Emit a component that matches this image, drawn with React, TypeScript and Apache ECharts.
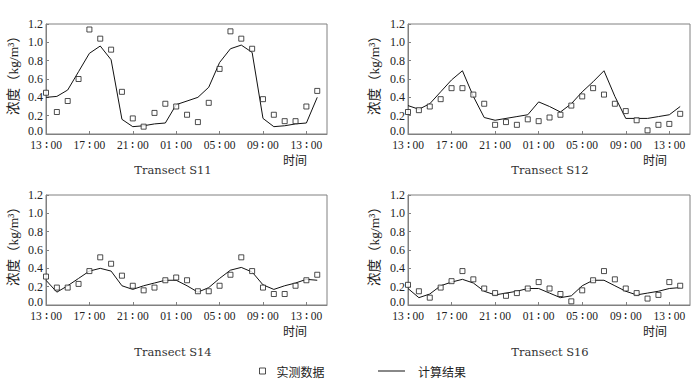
import React, { useEffect, useRef } from "react";
import * as echarts from "echarts";

const hours = [0, 1, 2, 3, 4, 5, 6, 7, 8, 9, 10, 11, 12, 13, 14, 15, 16, 17, 18, 19, 20, 21, 22, 23, 24, 25];
const timeLabels = ["13 ∶ 00", "17 ∶ 00", "21 ∶ 00", "01 ∶ 00", "05 ∶ 00", "09 ∶ 00", "13 ∶ 00"];
const yTicks = ["0.0", "0.2", "0.4", "0.6", "0.8", "1.0", "1.2"];
const transects = ["Transect S11", "Transect S12", "Transect S14", "Transect S16"];

const s11Measured = [0.45, 0.24, 0.36, 0.60, 1.14, 1.04, 0.92, 0.46, 0.17, 0.08, 0.23, 0.33, 0.30, 0.21, 0.13, 0.34, 0.71, 1.12, 1.04, 0.93, 0.38, 0.21, 0.14, 0.14, 0.30, 0.47];
const s11Computed = [0.40, 0.41, 0.48, 0.68, 0.88, 0.96, 0.81, 0.16, 0.08, 0.09, 0.11, 0.12, 0.32, 0.36, 0.40, 0.51, 0.78, 0.93, 0.97, 0.89, 0.17, 0.08, 0.09, 0.11, 0.12, 0.40];

const s12Measured = [0.24, 0.26, 0.30, 0.38, 0.50, 0.50, 0.43, 0.33, 0.10, 0.13, 0.10, 0.16, 0.14, 0.18, 0.21, 0.31, 0.41, 0.50, 0.43, 0.33, 0.25, 0.15, 0.04, 0.10, 0.11, 0.22];
const s12Computed = [0.31, 0.27, 0.33, 0.46, 0.59, 0.69, 0.41, 0.18, 0.15, 0.17, 0.19, 0.21, 0.35, 0.30, 0.24, 0.33, 0.46, 0.57, 0.69, 0.41, 0.17, 0.17, 0.17, 0.19, 0.21, 0.30];

const s14Measured = [0.31, 0.19, 0.19, 0.23, 0.37, 0.52, 0.45, 0.32, 0.21, 0.16, 0.19, 0.27, 0.30, 0.27, 0.15, 0.15, 0.21, 0.33, 0.52, 0.37, 0.19, 0.12, 0.12, 0.21, 0.27, 0.33];
const s14Computed = [0.27, 0.14, 0.21, 0.29, 0.37, 0.40, 0.37, 0.21, 0.17, 0.21, 0.24, 0.27, 0.27, 0.21, 0.14, 0.19, 0.29, 0.38, 0.41, 0.36, 0.22, 0.17, 0.21, 0.24, 0.28, 0.27];

const s16Measured = [0.22, 0.15, 0.08, 0.19, 0.26, 0.37, 0.28, 0.18, 0.13, 0.10, 0.13, 0.18, 0.25, 0.18, 0.12, 0.04, 0.16, 0.27, 0.37, 0.28, 0.18, 0.13, 0.07, 0.11, 0.25, 0.21];
const s16Computed = [0.18, 0.08, 0.12, 0.21, 0.25, 0.28, 0.24, 0.15, 0.11, 0.13, 0.15, 0.18, 0.18, 0.13, 0.08, 0.10, 0.21, 0.27, 0.27, 0.21, 0.15, 0.11, 0.13, 0.15, 0.18, 0.19];

const measuredSets = [s11Measured, s12Measured, s14Measured, s16Measured];
const computedSets = [s11Computed, s12Computed, s14Computed, s16Computed];

const SERIF = "'Liberation Serif', 'DejaVu Serif', serif";
const CJK = "'Liberation Serif', 'Noto Sans CJK SC', sans-serif";
const TEXT = "#222";
const FRAME = "#808080";

const grids = [
  { left: 46, top: 24, width: 281, height: 110 },
  { left: 408, top: 24, width: 282, height: 110 },
  { left: 46, top: 195, width: 281, height: 110 },
  { left: 408, top: 195, width: 282, height: 110 },
];

export default function App() {
  const ref = useRef<HTMLDivElement>(null);
  useEffect(() => {
    if (!ref.current) return;
    const chart = echarts.init(ref.current, null, { renderer: "svg" });

    const xAxes = grids.map((_, i) => ({
      type: "value",
      gridIndex: i,
      min: 0,
      max: 25.9,
      interval: 4,
      axisLine: { show: true, lineStyle: { color: FRAME, width: 1 } },
      axisTick: { show: true, inside: true, length: 3, lineStyle: { color: FRAME } },
      splitLine: { show: false },
      axisLabel: {
        showMaxLabel: false,
        margin: 5,
        color: TEXT,
        fontFamily: SERIF,
        fontSize: 11.5,
        formatter: (v: number) => (v % 4 === 0 ? timeLabels[v / 4] ?? "" : ""),
      },
    }));

    const yAxes = grids.map((_, i) => ({
      type: "value",
      gridIndex: i,
      min: 0,
      max: 1.2,
      interval: 0.2,
      axisLine: { show: true, lineStyle: { color: FRAME, width: 1 } },
      axisTick: { show: true, inside: true, length: 3, lineStyle: { color: FRAME } },
      splitLine: { show: false },
      axisLabel: {
        margin: 3,
        color: TEXT,
        fontFamily: SERIF,
        fontSize: 12,
        formatter: (v: number) => {
          const idx = Math.round(v / 0.2);
          const s = yTicks[idx] ?? "";
          return idx === 0 ? "{z|" + s + "}" : s;
        },
        rich: {
          z: { color: TEXT, fontFamily: SERIF, fontSize: 12, padding: [0, 0, 6, 0] },
        },
      },
    }));

    const series: any[] = [];
    grids.forEach((_, i) => {
      series.push({
        name: "计算结果",
        type: "line",
        xAxisIndex: i,
        yAxisIndex: i,
        data: hours.map((h, k) => [h, computedSets[i][k]]),
        showSymbol: false,
        symbol: "none",
        lineStyle: { color: "#111", width: 1 },
        itemStyle: { color: "#111" },
        z: 2,
      });
      series.push({
        name: "实测数据",
        type: "scatter",
        xAxisIndex: i,
        yAxisIndex: i,
        data: hours.map((h, k) => [h, measuredSets[i][k]]),
        symbol: "rect",
        symbolSize: 5,
        itemStyle: { color: "#fff", borderColor: "#222", borderWidth: 1 },
        z: 3,
      });
    });

    const titlePos = [
      [173, 170],
      [550, 170],
      [173, 352],
      [550, 352],
    ];
    const timePos = [
      [295, 159],
      [655, 159],
      [295, 330],
      [655, 330],
    ];
    const namePos = [
      [13, 72],
      [374, 72],
      [13, 243],
      [374, 243],
    ];

    const graphics: any[] = [];
    transects.forEach((t, i) => {
      graphics.push({
        type: "text",
        x: titlePos[i][0],
        y: titlePos[i][1],
        style: {
          text: t,
          fill: "#333",
          font: "11.5px 'DejaVu Serif', serif",
          textAlign: "center",
          textVerticalAlign: "middle",
        },
      });
      graphics.push({
        type: "text",
        x: timePos[i][0],
        y: timePos[i][1],
        style: {
          text: "时间",
          fill: TEXT,
          font: "12px 'Noto Sans CJK SC', sans-serif",
          textAlign: "center",
          textVerticalAlign: "middle",
        },
      });
      graphics.push({
        type: "text",
        x: namePos[i][0],
        y: namePos[i][1],
        rotation: Math.PI / 2,
        style: {
          text: "浓度（kg/m³）",
          fill: TEXT,
          font: "13.5px " + CJK,
          textAlign: "center",
          textVerticalAlign: "middle",
        },
      });
    });

    chart.setOption({
      animation: false,
      backgroundColor: "#fff",
      grid: grids.map((g) => ({ ...g, show: true, borderColor: FRAME, borderWidth: 1, backgroundColor: "transparent" })),
      xAxis: xAxes,
      yAxis: yAxes,
      legend: [
        {
          data: [{ name: "实测数据", icon: "rect", itemStyle: { color: "#fff", borderColor: "#222", borderWidth: 1 } }],
          left: 259,
          top: 365,
          padding: 0,
          itemWidth: 6,
          itemHeight: 6,
          textStyle: { color: TEXT, fontSize: 12, fontFamily: "'Noto Sans CJK SC', sans-serif", padding: [0, 0, 0, 6] },
        },
        {
          data: [{ name: "计算结果", icon: "rect", itemStyle: { color: "#111", borderWidth: 0 } }],
          left: 378,
          top: 365,
          padding: 0,
          itemWidth: 27,
          itemHeight: 1,
          textStyle: { color: TEXT, fontSize: 12, fontFamily: "'Noto Sans CJK SC', sans-serif", padding: [0, 0, 0, 8] },
        },
      ],
      graphic: graphics,
      series,
    });

    return () => chart.dispose();
  }, []);

  return (
    <div
      ref={ref}
      style={{ position: "fixed", left: 0, top: 0, width: 696, height: 381, background: "#fff" }}
    />
  );
}
